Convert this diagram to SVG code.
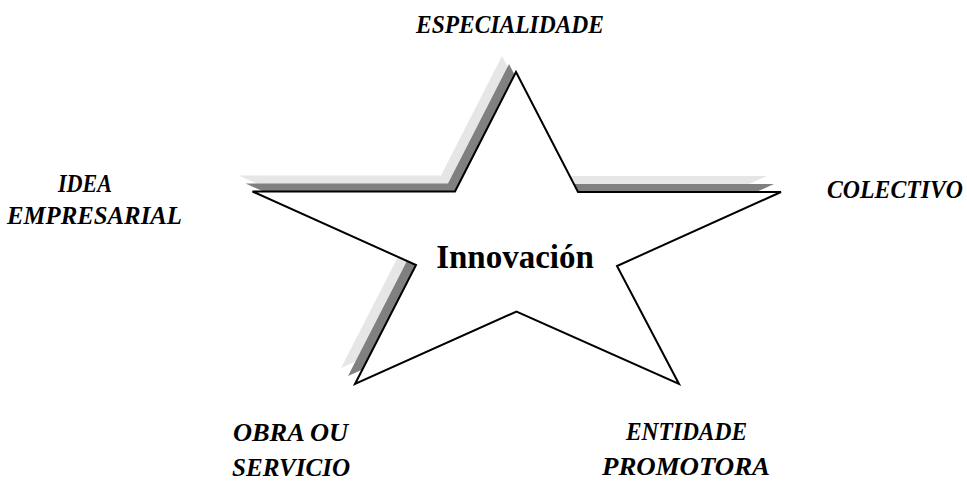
<svg xmlns="http://www.w3.org/2000/svg" width="967" height="483" viewBox="0 0 967 483">
<style>
.lbl{font-family:"Liberation Serif","Times New Roman",serif;font-weight:bold;font-style:italic;font-size:24.5px;fill:#000}
.ctr{font-family:"Liberation Serif","Times New Roman",serif;font-weight:bold;font-size:33px;fill:#000}
</style>
<defs>
<polygon id="star" points="516,72 578,192 781,192 617,266 679,384 516.5,311.5 355,384 416,265 252.5,191.5 455,191.5"/>
</defs>
<rect width="967" height="483" fill="#fff"/>
<g id="star-node">
<use href="#star" transform="translate(-14,-16)" fill="#e6e6e6"/>
<use href="#star" transform="translate(-7,-8)" fill="#808080"/>
<use href="#star" fill="#fff" stroke="#000" stroke-width="2" stroke-linejoin="miter"/>
<text class="ctr" x="515" y="268" text-anchor="middle">Innovación</text>
</g>
<g id="especialidade"><text class="lbl" x="416" y="33" textLength="188" lengthAdjust="spacingAndGlyphs">ESPECIALIDADE</text></g>
<g id="idea"><text class="lbl" x="58" y="192" textLength="54" lengthAdjust="spacingAndGlyphs">IDEA</text><text class="lbl" x="7" y="224" textLength="175" lengthAdjust="spacingAndGlyphs">EMPRESARIAL</text></g>
<g id="colectivo"><text class="lbl" x="827" y="198" textLength="136" lengthAdjust="spacingAndGlyphs">COLECTIVO</text></g>
<g id="obra"><text class="lbl" x="233" y="441" textLength="115" lengthAdjust="spacingAndGlyphs">OBRA OU</text><text class="lbl" x="232" y="476" textLength="118" lengthAdjust="spacingAndGlyphs">SERVICIO</text></g>
<g id="entidade"><text class="lbl" x="626" y="440" textLength="121" lengthAdjust="spacingAndGlyphs">ENTIDADE</text><text class="lbl" x="602" y="475" textLength="168" lengthAdjust="spacingAndGlyphs">PROMOTORA</text></g>
<g id="connectors"></g>
</svg>
